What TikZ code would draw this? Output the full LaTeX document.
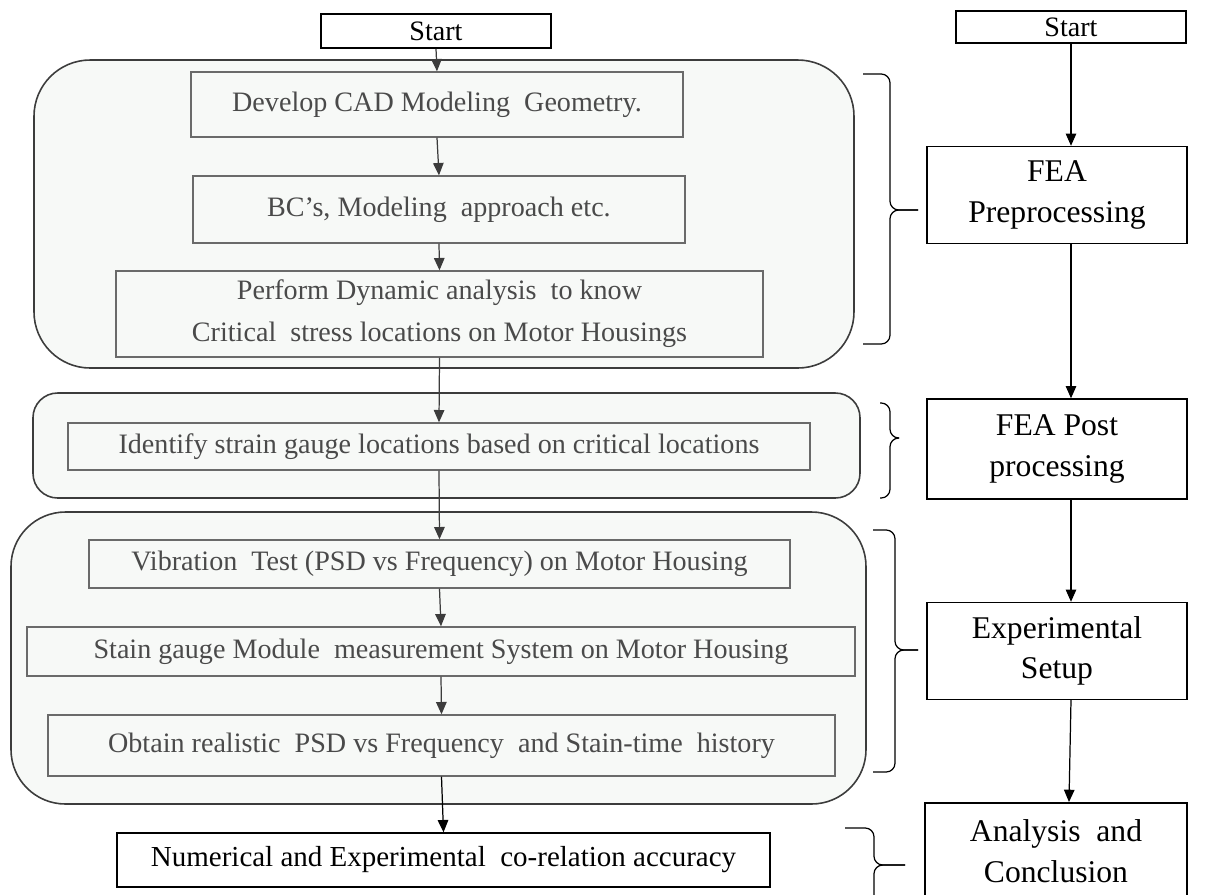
\documentclass[tikz,border=0pt]{standalone}
\usepackage{fontspec}
\setmainfont{Liberation Serif}
\usetikzlibrary{arrows.meta}
\definecolor{grpfill}{HTML}{F7F9F7}
\definecolor{grpline}{HTML}{3C3C3C}
\definecolor{boxline}{HTML}{6A6A6A}
\definecolor{boxtext}{HTML}{4A4A4A}
\tikzset{
  boxw/.style={minimum width=#1*0.02cm},
  boxh/.style={minimum height=#1*0.02cm},
  stepbox/.style={rectangle,draw=boxline,line width=0.8pt,text=boxtext,inner sep=0pt,align=center,font=\fontsize{16}{24}\selectfont},
  sidebox/.style={rectangle,draw,line width=0.8pt,fill=white,inner sep=0pt,align=center,font=\fontsize{18}{23}\selectfont},
  startbox/.style={rectangle,draw,line width=0.9pt,fill=white,inner sep=0pt,font=\fontsize{16}{18}\selectfont},
  group/.style={draw=grpline,line width=0.9pt,fill=grpfill},
  arr/.style={-{Triangle[length=7pt,width=6pt]},line width=0.7pt,draw=grpline},
  arrk/.style={-{Triangle[length=7pt,width=6pt]},line width=0.7pt},
  brc/.style={line width=0.7pt,rounded corners=5pt}
}
\newcommand{\sidebrace}[6]{%
  \draw[brc] (#1,#4) -- (#2,#4) -- (#2,#5) -- (#3,#5);
  \draw[brc] (#1,#6) -- (#2,#6) -- (#2,#5) -- (#3,#5);}
\begin{document}
\begin{tikzpicture}[x=0.02cm,y=-0.02cm]
    \useasboundingbox (0,0) rectangle (1208,894);
    % groups
    \draw[group,rounded corners=32pt] (34,60) rectangle (854,368);
    \draw[group,rounded corners=14pt] (33,393) rectangle (860,498);
    \draw[group,rounded corners=31pt] (11,512) rectangle (866,804);
    % left column
    \node[startbox,boxw=230,boxh=34] (startL) at (436,31) {Start};
    \node[stepbox,boxw=492,boxh=65] (cad) at (437,104.5) {Develop CAD Modeling~ Geometry.};
    \node[stepbox,boxw=492,boxh=67] (bc) at (439,209.5) {BC’s, Modeling~ approach etc.};
    \node[stepbox,boxw=647,boxh=86] (perf) at (439.5,314) {Perform Dynamic analysis~ to know\\Critical~ stress locations on Motor Housings};
    \node[stepbox,boxw=742,boxh=47] (ident) at (439,446.5) {Identify strain gauge locations based on critical locations};
    \node[stepbox,boxw=701,boxh=48] (vib) at (439.5,564) {Vibration~ Test (PSD vs Frequency) on Motor Housing};
    \node[stepbox,boxw=828,boxh=49] (stain) at (441,651.5) {Stain gauge Module~ measurement System on Motor Housing};
    \node[stepbox,boxw=787,boxh=61] (obtain) at (441.5,745.5) {Obtain realistic~ PSD vs Frequency~ and Stain-time~ history};
    \node[sidebox,boxw=653,boxh=54,font=\fontsize{16.5}{18}\selectfont] (numer) at (443.5,860) {Numerical and Experimental~ co-relation accuracy};
    \draw[arr] (startL.south) -- (cad.north);
    \draw[arr] (cad.south) -- (bc.north);
    \draw[arr] (bc.south) -- (perf.north);
    \draw[arr] (perf.south) -- (ident.north);
    \draw[arr] (ident.south) -- (vib.north);
    \draw[arr] (vib.south) -- (stain.north);
    \draw[arr] (stain.south) -- (obtain.north);
    \draw[arrk] (obtain.south) -- (numer.north);
    % right column
    \coordinate (lastin) at (1069,802);
    \node[startbox,boxw=230,boxh=32] (startR) at (1071,27) {Start};
    \node[sidebox,boxw=260,boxh=97] (pre) at (1057,195) {FEA\\Preprocessing};
    \node[sidebox,boxw=260,boxh=100] (post) at (1057,449) {FEA Post\\processing};
    \node[sidebox,boxw=260,boxh=97] (exper) at (1057,651) {Experimental\\Setup};
    \node[sidebox,boxw=262,boxh=96] (anal) at (1056,851) {Analysis~ and\\Conclusion};
    \draw[arrk] (startR.south) -- (startR.south |- pre.north);
    \draw[arrk] (pre.south -| startR.south) -- (post.north -| startR.south);
    \draw[arrk] (post.south -| startR.south) -- (exper.north -| startR.south);
    \draw[arrk] (exper.south -| startR.south) -- (lastin);
    % braces
    \sidebrace{863}{890}{918}{74}{210}{344}
    \sidebrace{880}{890}{899}{403}{438}{498}
    \sidebrace{873}{895}{918}{530}{650}{772}
    \sidebrace{845}{874}{905}{828}{865}{910}
\end{tikzpicture}
\end{document}
